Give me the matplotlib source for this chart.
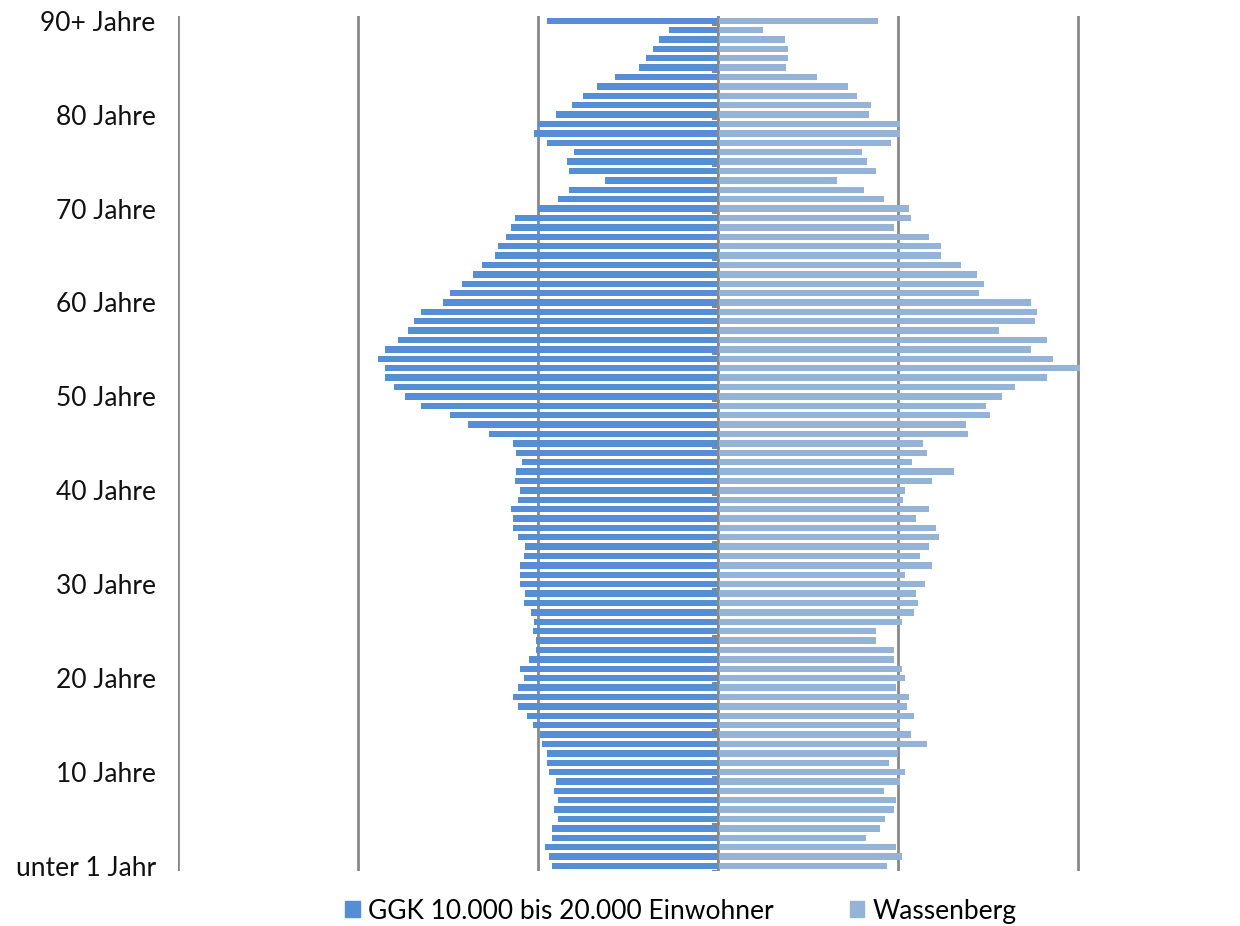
import numpy as np
import matplotlib
matplotlib.use('Agg')
from matplotlib import pyplot as plt
from matplotlib.patches import Patch

plt.rcParams['font.family'] = ['Lato', 'DejaVu Sans']

# Anteil je Altersjahr in %, Index 0 = unter 1 Jahr ... 90 = 90+ Jahre
ggk = [0.92, 0.94, 0.96, 0.92, 0.92, 0.89, 0.91, 0.89, 0.91, 0.90,
       0.94, 0.95, 0.95, 0.98, 0.99, 1.03, 1.06, 1.11, 1.14, 1.11,
       1.08, 1.10, 1.05, 1.01, 1.01, 1.03, 1.02, 1.04, 1.08, 1.07,
       1.10, 1.10, 1.10, 1.08, 1.07, 1.11, 1.14, 1.14, 1.15, 1.11,
       1.10, 1.13, 1.12, 1.09, 1.12, 1.14, 1.27, 1.39, 1.49, 1.65,
       1.74, 1.80, 1.85, 1.85, 1.89, 1.85, 1.78, 1.72, 1.69, 1.65,
       1.53, 1.49, 1.42, 1.36, 1.31, 1.24, 1.22, 1.18, 1.15, 1.13,
       1.00, 0.89, 0.83, 0.63, 0.83, 0.84, 0.80, 0.95, 1.02, 1.00,
       0.90, 0.81, 0.75, 0.67, 0.57, 0.44, 0.40, 0.36, 0.33, 0.27,
       0.95]
wassenberg = [0.94, 1.02, 0.99, 0.82, 0.90, 0.93, 0.98, 0.99, 0.92, 1.01,
              1.04, 0.95, 1.00, 1.16, 1.07, 1.01, 1.09, 1.05, 1.06, 0.99,
              1.04, 1.02, 0.98, 0.98, 0.88, 0.88, 1.02, 1.09, 1.11, 1.10,
              1.15, 1.04, 1.19, 1.12, 1.17, 1.23, 1.21, 1.10, 1.17, 1.03,
              1.04, 1.19, 1.31, 1.08, 1.16, 1.14, 1.39, 1.38, 1.51, 1.49,
              1.58, 1.65, 1.83, 2.01, 1.86, 1.74, 1.83, 1.56, 1.76, 1.77,
              1.74, 1.45, 1.48, 1.44, 1.35, 1.24, 1.24, 1.17, 0.98, 1.07,
              1.06, 0.92, 0.81, 0.66, 0.88, 0.83, 0.80, 0.96, 1.01, 1.01,
              0.84, 0.85, 0.77, 0.72, 0.55, 0.38, 0.39, 0.39, 0.37, 0.25,
              0.89]
label_pos = [0, 10, 20, 30, 40, 50, 60, 70, 80, 90]
label_text = ['unter 1 Jahr', '10 Jahre', '20 Jahre', '30 Jahre', '40 Jahre',
              '50 Jahre', '60 Jahre', '70 Jahre', '80 Jahre', '90+ Jahre']
names = ['GGK 10.000 bis 20.000 Einwohner', 'Wassenberg']

c_left = '#558ED5'
c_right = '#95B3D7'
grey = '#898989'

fig = plt.figure(figsize=(12.4, 9.26), dpi=100)
ax = fig.add_axes([0.1435, 0.0597, 0.7288, 0.923])

ages = np.arange(len(ggk))
ax.barh(ages, -np.array(ggk), height=0.68, color=c_left, zorder=3)
ax.barh(ages, wassenberg, height=0.68, color=c_right, zorder=3)

ax.set_xlim(-3, 2.02)
ax.set_ylim(-0.5, len(ggk) - 0.5)

ax.set_xticks([-3, -2, -1, 0, 1, 2])
ax.set_xticklabels([])
ax.grid(axis='x', color=grey, lw=2, zorder=0)
ax.tick_params(axis='x', length=0)

# Kategorieachse in der Mitte mit kleinen Teilstrichen
ax.axvline(0, color=grey, lw=1.5, zorder=4)
ax.hlines(np.arange(-0.5, len(ggk), 5), -0.035, 0, color=grey, lw=1.5, zorder=4)

ax.set_yticks(label_pos)
ax.set_yticklabels(label_text, fontsize=19, color='#111111')
ax.tick_params(axis='y', length=0, pad=16)

for s in ax.spines.values():
    s.set_visible(False)

handles = [Patch(color=c_left), Patch(color=c_right)]
fig.legend(handles, names, loc='center', bbox_to_anchor=(0.549, 0.016), ncol=2,
           frameon=False, fontsize=19, handlelength=0.55, handleheight=0.55,
           handletextpad=0.3, columnspacing=2.9)

fig.savefig('out.png', dpi=100)
